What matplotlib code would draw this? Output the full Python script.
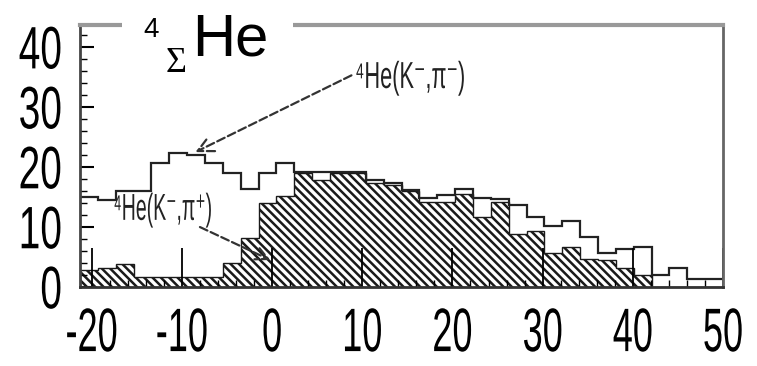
import numpy as np
import matplotlib
matplotlib.use('Agg')
import matplotlib.pyplot as plt
from matplotlib.patches import Rectangle
from matplotlib.patheffects import AbstractPathEffect
from matplotlib.transforms import Affine2D

# excitation energy bins (MeV), 36 bins
edges = np.linspace(-21.3, 50.0, 37)

# 4He(K-,pi-) counts, open histogram
pim_counts = [15.0, 14.5, 16.0, 16.0, 20.6, 22.3, 22.0, 20.6, 19.0, 16.4,
              19.0, 20.6, 19.2, 19.2, 19.2, 19.1, 17.8, 17.3, 16.2, 14.8,
              15.3, 16.4, 14.8, 14.6, 13.6, 11.7, 10.2, 11.0, 8.3, 5.6,
              6.4, 6.7, 2.0, 3.1, 1.4, 1.4]

# 4He(K-,pi+) counts, hatched histogram
pip_counts = [2.8, 3.2, 3.9, 1.7, 1.7, 1.7, 1.7, 1.7, 4.0, 8.1,
              14.0, 15.2, 19.0, 17.8, 19.0, 19.0, 17.3, 17.0, 16.0, 14.2,
              14.2, 15.5, 11.7, 14.2, 8.8, 9.3, 5.7, 6.7, 4.7, 4.5,
              3.1, 2.0, 0.0, 0.0, 0.0, 0.0]

xticks = [-20, -10, 0, 10, 20, 30, 40, 50]
yticks = [0, 10, 20, 30, 40]


class Stretch(AbstractPathEffect):
    """Rescale glyphs around an edge or the centre of their ink box."""

    def __init__(self, sx=1.0, sy=1.0, xanchor='center', yanchor='center'):
        super().__init__()
        self._sx = sx
        self._sy = sy
        self._xa = xanchor
        self._ya = yanchor

    @staticmethod
    def _pick(v, where):
        if where in ('left', 'bottom'):
            return v.min()
        if where in ('right', 'top'):
            return v.max()
        return 0.5 * (v.min() + v.max())

    def draw_path(self, renderer, gc, tpath, affine, rgbFace=None):
        if len(tpath.vertices) == 0:
            return
        pts = affine.transform(tpath.vertices)
        x0 = self._pick(pts[:, 0], self._xa)
        y0 = self._pick(pts[:, 1], self._ya)
        tr = affine + (Affine2D().translate(-x0, -y0)
                       .scale(self._sx, self._sy).translate(x0, y0))
        renderer.draw_path(gc, tpath, tr, rgbFace)


fams = ['Liberation Sans', 'DejaVu Sans']
plt.rcParams['axes.unicode_minus'] = False
plt.rcParams['hatch.linewidth'] = 1.8

fig = plt.figure(figsize=(7.57, 3.66), dpi=100)
ax = fig.add_axes([80 / 757, 1 - 287 / 366, 643 / 757, 262 / 366])

ax.stairs(pip_counts, edges, fill=True, facecolor='white', edgecolor='#1a1a1a',
          hatch='\\\\\\\\', linewidth=1.0)
ax.stairs(pim_counts, edges, baseline=None, color='#222222', linewidth=1.6)

ax.set_xlim(-21.3, 50.0)
ax.set_ylim(0, 43.7)
ax.set_xticks(xticks)
ax.set_yticks(yticks)
ax.set_xticks(np.arange(-20, 51, 2), minor=True)
ax.set_yticks(np.arange(0, 43, 2), minor=True)
ax.tick_params(axis='x', which='major', direction='in', length=28, width=1.3, pad=14)
ax.tick_params(axis='x', which='minor', direction='in', length=5, width=1.0)
ax.tick_params(axis='y', which='major', direction='in', length=10, width=1.5, pad=13)
ax.tick_params(axis='y', which='minor', direction='in', length=5, width=1.0)
for lab in ax.get_xticklabels():
    lab.set_family(fams)
    lab.set_fontsize(26)
    lab.set_path_effects([Stretch(sy=1.7, yanchor='top')])
for lab in ax.get_yticklabels():
    lab.set_family(fams)
    lab.set_fontsize(28)
    lab.set_path_effects([Stretch(sy=1.54)])

ax.spines['left'].set_color('#444444')
ax.spines['left'].set_linewidth(2.0)
ax.spines['bottom'].set_color('#333333')
ax.spines['bottom'].set_linewidth(2.0)
ax.spines['top'].set_color('#999999')
ax.spines['top'].set_linewidth(3.0)
ax.spines['right'].set_color('#666666')
ax.spines['right'].set_linewidth(2.0)

# labels and arrows
ax.text(9.2, 33.2, '\u2074He(K\u207b,\u03c0\u207b)', family=fams, fontsize=27,
        ha='left', va='baseline', color='#222222',
        path_effects=[Stretch(sx=0.58, xanchor='left')])
ax.annotate('', xy=(-8.5, 22.5), xytext=(8.8, 35.3),
            arrowprops=dict(arrowstyle='->', linestyle='--', lw=1.6,
                            color='#333333', mutation_scale=28,
                            shrinkA=0, shrinkB=0))
ax.text(-17.6, 11.2, '\u2074He(K\u207b,\u03c0\u207a)', family=fams, fontsize=27,
        ha='left', va='baseline', color='#222222',
        path_effects=[Stretch(sx=0.52, xanchor='left')])
ax.annotate('', xy=(-0.2, 4.5), xytext=(-8.0, 10.0),
            arrowprops=dict(arrowstyle='->', linestyle='--', lw=1.6,
                            color='#333333', mutation_scale=22,
                            shrinkA=0, shrinkB=0))

# title breaking the top frame line
fig.add_artist(Rectangle((122 / 757, 1 - 34 / 366), 171 / 757, 18 / 366,
                         transform=fig.transFigure, facecolor='white',
                         edgecolor='none', zorder=5))
fig.text(143 / 757, 1 - 37 / 366, '4', family='Liberation Sans', fontsize=20,
         ha='left', va='baseline', zorder=6)
fig.text(166 / 757, 1 - 72 / 366, '\u03a3', family='Liberation Serif', fontsize=26,
         ha='left', va='baseline', zorder=6)
fig.text(192 / 757, 1 - 55 / 366, 'He', family='Liberation Sans', fontsize=43,
         ha='left', va='baseline', zorder=6)

fig.savefig('out.png', dpi=100)
